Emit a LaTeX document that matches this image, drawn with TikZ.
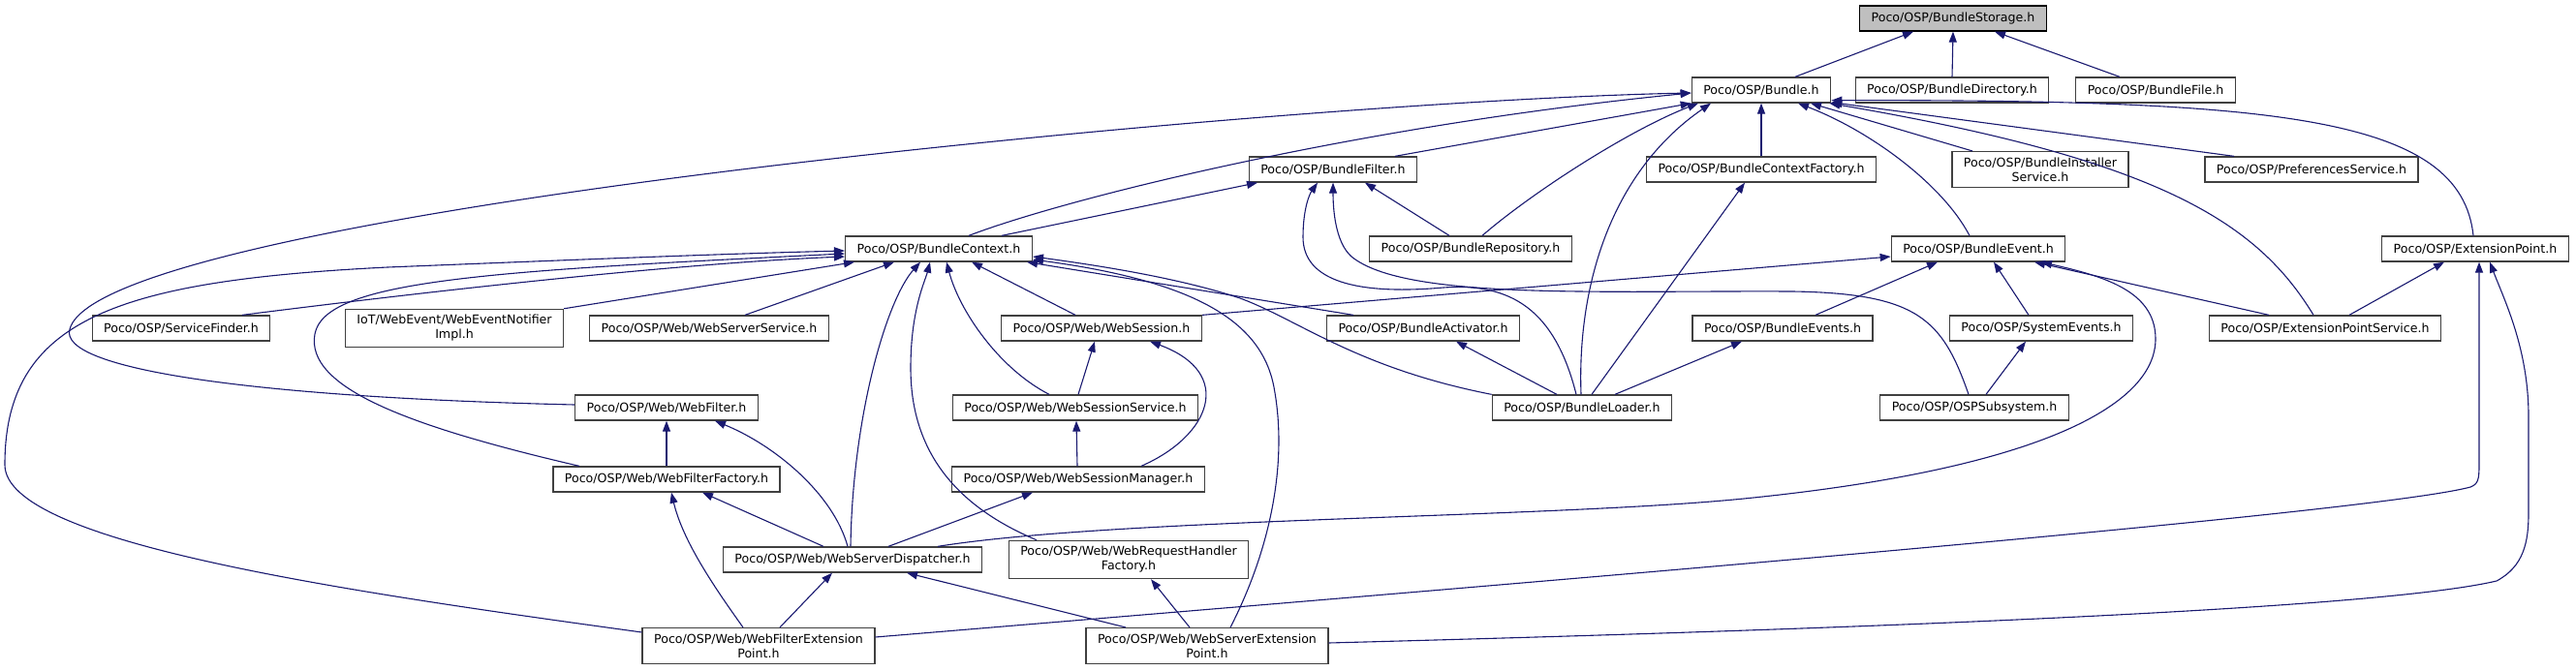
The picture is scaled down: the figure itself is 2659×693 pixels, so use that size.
\documentclass[tikz,border=0pt]{standalone}
\usepackage{fontspec}
\setmainfont{DejaVu Sans}
\usepackage{tikz}
\usetikzlibrary{arrows.meta}
\definecolor{edgeblue}{HTML}{191970}
\definecolor{boxgrey}{HTML}{404040}
\definecolor{rootfill}{HTML}{BFBFBF}

\begin{document}
\begin{tikzpicture}[x=1pt, y=-1pt,
    file/.style={draw=boxgrey, line width=1.3pt, fill=white, inner xsep=12pt, inner ysep=6pt,
      minimum height=26pt, align=center, font=\fontsize{12.6}{15}\selectfont},
    root/.style={file, draw=black, fill=rootfill},
    dep/.style={edgeblue, line width=1.1pt, -{Triangle[length=11pt,width=8pt]}}]
  \path[use as bounding box, fill=white] (0,0) rectangle (2659,693);

  \node[root] (storage) at (2016,19) {Poco/OSP/BundleStorage.h};
  \node[file] (bundle) at (1818,93) {Poco/OSP/Bundle.h};
  \node[file] (bdir) at (2015,93) {Poco/OSP/BundleDirectory.h};
  \node[file] (bfile) at (2225,93) {Poco/OSP/BundleFile.h};
  \node[file] (bfilter) at (1376,175) {Poco/OSP/BundleFilter.h};
  \node[file] (bctxfac) at (1818,175) {Poco/OSP/BundleContextFactory.h};
  \node[file] (binst) at (2106,175) {Poco/OSP/BundleInstaller\\Service.h};
  \node[file] (prefs) at (2386,175) {Poco/OSP/PreferencesService.h};
  \node[file] (bctx) at (969,257) {Poco/OSP/BundleContext.h};
  \node[file] (brepo) at (1518,257) {Poco/OSP/BundleRepository.h};
  \node[file] (bevent) at (2042,257) {Poco/OSP/BundleEvent.h};
  \node[file] (extpt) at (2555,257) {Poco/OSP/ExtensionPoint.h};
  \node[file] (finder) at (187,339) {Poco/OSP/ServiceFinder.h};
  \node[file] (notifier) at (469,339) {IoT/WebEvent/WebEventNotifier\\Impl.h};
  \node[file] (wss) at (732,339) {Poco/OSP/Web/WebServerService.h};
  \node[file] (wsession) at (1137,339) {Poco/OSP/Web/WebSession.h};
  \node[file] (activator) at (1469,339) {Poco/OSP/BundleActivator.h};
  \node[file] (bevents) at (1840,339) {Poco/OSP/BundleEvents.h};
  \node[file] (sysevents) at (2107,339) {Poco/OSP/SystemEvents.h};
  \node[file] (extsvc) at (2400,339) {Poco/OSP/ExtensionPointService.h};
  \node[file] (webfilter) at (688,421) {Poco/OSP/Web/WebFilter.h};
  \node[file] (wsessvc) at (1110,421) {Poco/OSP/Web/WebSessionService.h};
  \node[file] (loader) at (1633,421) {Poco/OSP/BundleLoader.h};
  \node[file] (subsys) at (2038,421) {Poco/OSP/OSPSubsystem.h};
  \node[file] (wffactory) at (688,495) {Poco/OSP/Web/WebFilterFactory.h};
  \node[file] (wsesmgr) at (1113,495) {Poco/OSP/Web/WebSessionManager.h};
  \node[file] (dispatcher) at (880,578) {Poco/OSP/Web/WebServerDispatcher.h};
  \node[file] (rhfactory) at (1165,578) {Poco/OSP/Web/WebRequestHandler\\Factory.h};
  \node[file] (wfext) at (783,667) {Poco/OSP/Web/WebFilterExtension\\Point.h};
  \node[file] (wsext) at (1246,667) {Poco/OSP/Web/WebServerExtension\\Point.h};

  % includes of BundleStorage.h
  \draw[dep] ([xshift=35pt]bundle.north) -- ([xshift=-41pt]storage.south);
  \draw[dep] (bdir.north) -- (storage.south);
  \draw[dep] ([xshift=-37pt]bfile.north) -- ([xshift=43pt]storage.south);

  % includes of Bundle.h
  \draw[dep] ([yshift=3pt]webfilter.west) .. controls (250,410) and (60,380) .. (72,340)
    .. controls (90,270) and (500,205) .. (850,165)
    .. controls (1200,125) and (1550,100) .. ([yshift=-3pt]bundle.west);
  \draw[dep] ([xshift=31pt]bctx.north) .. controls (1100,205) and (1400,130) .. ([yshift=-3pt]bundle.west);
  \draw[dep] ([xshift=64pt]bfilter.north) -- (bundle.south west);
  \draw[dep] ([xshift=12pt]brepo.north) .. controls (1580,200) and (1680,135) .. ([xshift=-65pt]bundle.south);
  \draw[dep] ([xshift=-1pt]loader.north) .. controls (1628,300) and (1660,180) .. ([xshift=-52pt]bundle.south);
  \draw[dep] (bctxfac.north) -- (bundle.south);
  \draw[dep] ([xshift=-9pt]bevent.north) .. controls (2005,190) and (1930,135) .. ([xshift=38pt]bundle.south);
  \draw[dep] ([xshift=-70pt]binst.north) -- ([xshift=51pt]bundle.south);
  \draw[dep] ([xshift=-80pt]prefs.north) -- ([yshift=1pt]bundle.south east);
  \draw[dep] ([xshift=-12pt]extsvc.north) .. controls (2330,230) and (2230,165) .. ([xshift=-2pt]bundle.south east);
  \draw[dep] ([xshift=-2pt]extpt.north) .. controls (2540,120) and (2350,103) .. ([yshift=3pt]bundle.south east);

  % includes of BundleFilter.h
  \draw[dep] ([xshift=65pt]bctx.north) -- ([xshift=-78pt]bfilter.south);
  \draw[dep] ([xshift=-22pt]brepo.north) -- ([xshift=33pt]bfilter.south);
  \draw[dep] ([xshift=-6pt]loader.north) .. controls (1605,320) and (1560,292) .. (1490,297)
    .. controls (1400,305) and (1345,290) .. (1345,245)
    .. controls (1345,215) and (1352,200) .. ([xshift=-16pt]bfilter.south);
  \draw[dep] ([xshift=-6pt]subsys.north) .. controls (2005,330) and (1980,303) .. (1850,301)
    .. controls (1650,300) and (1450,310) .. (1395,265)
    .. controls (1378,250) and (1376,215) .. (bfilter.south);

  % includes of BundleContext.h
  \draw[dep] ([xshift=63pt]finder.north) .. controls (450,300) and (700,272) .. ([yshift=-8pt]bctx.west);
  \draw[dep] (notifier.north east) -- ([xshift=-87pt]bctx.south);
  \draw[dep] ([xshift=37pt]wss.north) -- ([xshift=-46pt]bctx.south);
  \draw[dep] ([yshift=14pt]wfext.west) .. controls (350,610) and (5,560) .. (5,480)
    .. controls (5,330) and (120,290) .. (400,276)
    .. controls (600,268) and (750,262) .. ([yshift=-2pt]bctx.west);
  \draw[dep] ([xshift=-90pt]wffactory.north) .. controls (420,440) and (315,400) .. (325,345)
    .. controls (335,290) and (500,280) .. ([yshift=-5pt]bctx.west);
  \draw[dep] ([xshift=-2pt]dispatcher.north) .. controls (880,430) and (915,310) .. ([xshift=-19pt]bctx.south);
  \draw[dep] ([xshift=-95pt]rhfactory.north) .. controls (980,520) and (940,460) .. (940,380)
    .. controls (940,320) and (955,290) .. ([xshift=-9pt]bctx.south);
  \draw[dep] ([xshift=-27pt]wsessvc.north) .. controls (1030,380) and (990,320) .. ([xshift=8pt]bctx.south);
  \draw[dep] ([xshift=-27pt]wsession.north) -- ([xshift=34pt]bctx.south);
  \draw[dep] ([xshift=-72pt]activator.north) -- ([xshift=-6pt]bctx.south east);
  \draw[dep] (loader.north west) .. controls (1400,380) and (1340,330) .. (1280,308)
    .. controls (1220,288) and (1140,275) .. ([yshift=-8pt]bctx.east);
  \draw[dep] ([xshift=24pt]wsext.north) .. controls (1310,570) and (1330,480) .. (1315,400)
    .. controls (1302,330) and (1230,290) .. ([yshift=-11pt]bctx.east);

  % includes of BundleEvent.h
  \draw[dep] (wsession.north east) -- ([yshift=-8pt]bevent.west);
  \draw[dep] ([xshift=34pt]bevents.north) -- ([xshift=-42pt]bevent.south);
  \draw[dep] ([xshift=-13pt]sysevents.north) -- ([xshift=16pt]bevent.south);
  \draw[dep] ([xshift=-58pt]extsvc.north) -- ([xshift=58pt]bevent.south);
  \draw[dep] ([xshift=88pt]dispatcher.north) .. controls (1150,535) and (1600,535) .. (1800,515)
    .. controls (2100,485) and (2225,420) .. (2225,350)
    .. controls (2225,300) and (2170,285) .. ([xshift=65pt]bevent.south);

  % includes of ExtensionPoint.h
  \draw[dep] ([xshift=25pt]extsvc.north) -- ([xshift=-32pt]extpt.south);
  \draw[dep] ([yshift=9pt]wfext.east) .. controls (1600,600) and (2450,530) .. (2550,503)
    .. controls (2558,500) and (2559,495) .. (2559,480) -- ([xshift=4pt]extpt.south);
  \draw[dep] ([yshift=3pt]wsext.east) .. controls (1900,650) and (2450,630) .. (2577,600)
    .. controls (2605,585) and (2610,560) .. (2610,530) -- (2610,430)
    .. controls (2610,360) and (2585,310) .. ([xshift=15pt]extpt.south);

  % the rest
  \draw[dep] ([xshift=12pt]subsys.north) -- ([xshift=-16pt]sysevents.south);
  \draw[dep] ([xshift=-26pt]loader.north) -- ([xshift=34pt]activator.south);
  \draw[dep] ([xshift=10pt]loader.north) -- ([xshift=-17pt]bctxfac.south);
  \draw[dep] ([xshift=34pt]loader.north) -- ([xshift=-42pt]bevents.south);
  \draw[dep] ([xshift=3pt]wsessvc.north) -- ([xshift=-7pt]wsession.south);
  \draw[dep] ([xshift=65pt]wsesmgr.north) .. controls (1250,450) and (1275,385) .. ([xshift=50pt]wsession.south);
  \draw[dep] ([xshift=-1pt]wsesmgr.north) -- ([xshift=1pt]wsessvc.south);
  \draw[dep] ([xshift=37pt]dispatcher.north) -- ([xshift=-47pt]wsesmgr.south);
  \draw[dep] (wffactory.north) -- (webfilter.south);
  \draw[dep] ([xshift=-5pt]dispatcher.north) .. controls (860,510) and (800,460) .. ([xshift=50pt]webfilter.south);
  \draw[dep] ([xshift=-30pt]dispatcher.north) -- ([xshift=37pt]wffactory.south);
  \draw[dep] ([xshift=-16pt]wfext.north) .. controls (740,610) and (705,560) .. ([xshift=5pt]wffactory.south);
  \draw[dep] ([xshift=22pt]wfext.north) -- ([xshift=-21pt]dispatcher.south);
  \draw[dep] ([xshift=-84pt]wsext.north) -- ([xshift=56pt]dispatcher.south);
  \draw[dep] ([xshift=-18pt]wsext.north) -- ([xshift=23pt]rhfactory.south);
\end{tikzpicture}
\end{document}
